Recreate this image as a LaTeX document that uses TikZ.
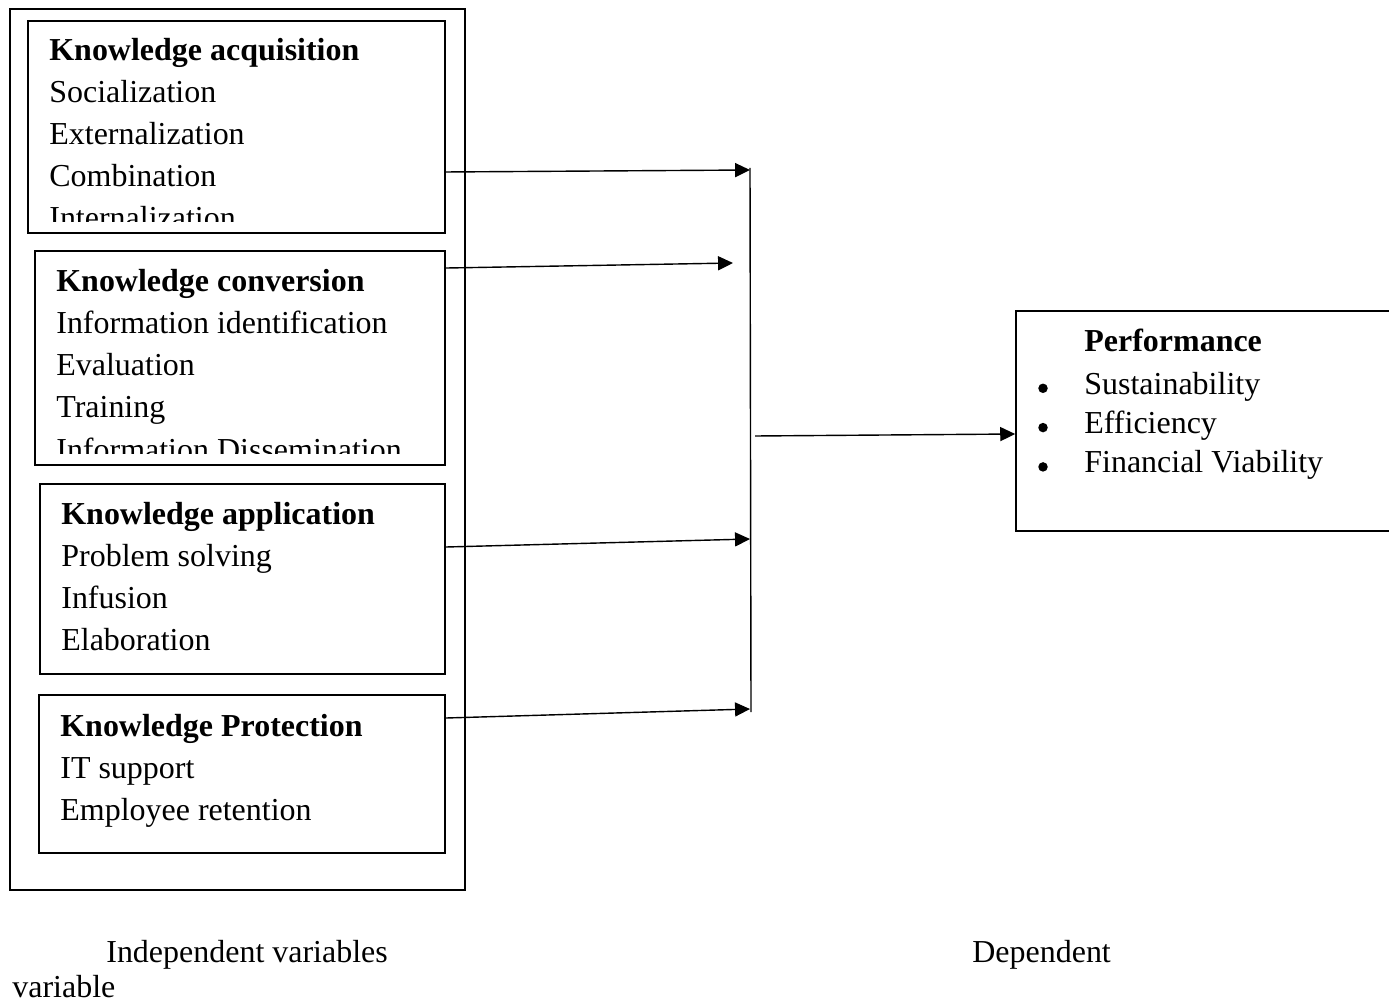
\documentclass[tikz,border=0pt]{standalone}
\usepackage{fontspec}
\setmainfont{Liberation Serif}
\usepackage{tikz}
\usetikzlibrary{shapes,arrows.meta,positioning,calc}

\begin{document}
\begin{tikzpicture}[x=0.02cm,y=-0.02cm,
    font=\fontsize{18.2}{24}\selectfont,
    box/.style={rectangle,draw,line width=1pt},
    head/.style={anchor=base west,inner sep=0pt,font=\fontsize{18.2}{24}\selectfont\bfseries},
    item/.style={anchor=base west,inner sep=0pt},
    dot/.style={circle,fill,inner sep=0pt,minimum size=0.19cm},
    arr/.style={-{Triangle[length=8.5pt,width=8pt]},line width=0.8pt}]
    \clip (0,0) rectangle (1389,1003);

    % 方框
    \node[rectangle,draw,line width=0.8pt,minimum width=9.1cm,minimum height=17.62cm] (frame) at (237.5,449.5) {};
    \node[box,minimum width=8.34cm,minimum height=4.24cm] (acq) at (236.5,127) {};
    \node[box,minimum width=8.2cm,minimum height=4.28cm] (conv) at (240,358) {};
    \node[box,minimum width=8.1cm,minimum height=3.8cm] (appl) at (242.5,579) {};
    \node[box,minimum width=8.12cm,minimum height=3.16cm] (prot) at (242,774) {};
    \node[box,minimum width=7.68cm,minimum height=4.4cm] (perf) at (1208,421) {};

    % 文字
    \begin{scope}
        \clip (28,21) rectangle (445,222);
        \node[head] (acqhead) at (49,61) {Knowledge acquisition};
        \foreach \t [count=\i] in {Socialization,Externalization,Combination,Internalization}
            \node[item] (acq\i) at (49,{61+42*\i}) {\t};
    \end{scope}
    \begin{scope}
        \clip (35,251) rectangle (445,453);
        \node[head] (convhead) at (56,292) {Knowledge conversion};
        \foreach \t [count=\i] in {Information identification,Evaluation,Training,Information Dissemination}
            \node[item] (conv\i) at (56,{292+42*\i}) {\t};
    \end{scope}
    \node[head] (applhead) at (61,524) {Knowledge application};
    \foreach \t [count=\i] in {Problem solving,Infusion,Elaboration}
        \node[item] (appl\i) at (61,{524+42.3*\i}) {\t};
    \node[head] (prothead) at (60,736) {Knowledge Protection};
    \foreach \t [count=\i] in {IT support,Employee retention}
        \node[item] (prot\i) at (60,{736+42*\i}) {\t};

    \node[head] (perfhead) at (1084,352) {Performance};
    \foreach \t [count=\i] in {Sustainability,Efficiency,Financial Viability} {
        \node[item] (perf\i) at (1084,{355+39.3*\i}) {\t};
        \node[dot] (dot\i) at (1043,{349+39.3*\i}) {};
    }

    % 连线
    \coordinate (j1) at (750,170);
    \coordinate (j2) at (733,263);
    \coordinate (j3) at (750,539);
    \coordinate (j4) at (750,709);
    \coordinate (bartop) at (750,168);
    \coordinate (barbot) at (751,712);
    \coordinate (mid) at (755,436);
    \draw[arr] ([yshift=-0.9cm]acq.east) -- (j1);
    \draw[arr] ([yshift=1.8cm]conv.east) -- (j2);
    \draw[arr] ([yshift=0.64cm]appl.east) -- (j3);
    \draw[arr] ([yshift=1.12cm]prot.east) -- (j4);
    \draw[line width=0.8pt] (bartop) -- (barbot);
    \draw[arr] (mid) -- ([yshift=-0.26cm]perf.west);

    % 标签
    \node[item] (indep) at (106,962) {Independent variables};
    \node[item] (dep) at (972,962) {Dependent};
    \node[item] (var) at (12,997) {variable};
\end{tikzpicture}
\end{document}
